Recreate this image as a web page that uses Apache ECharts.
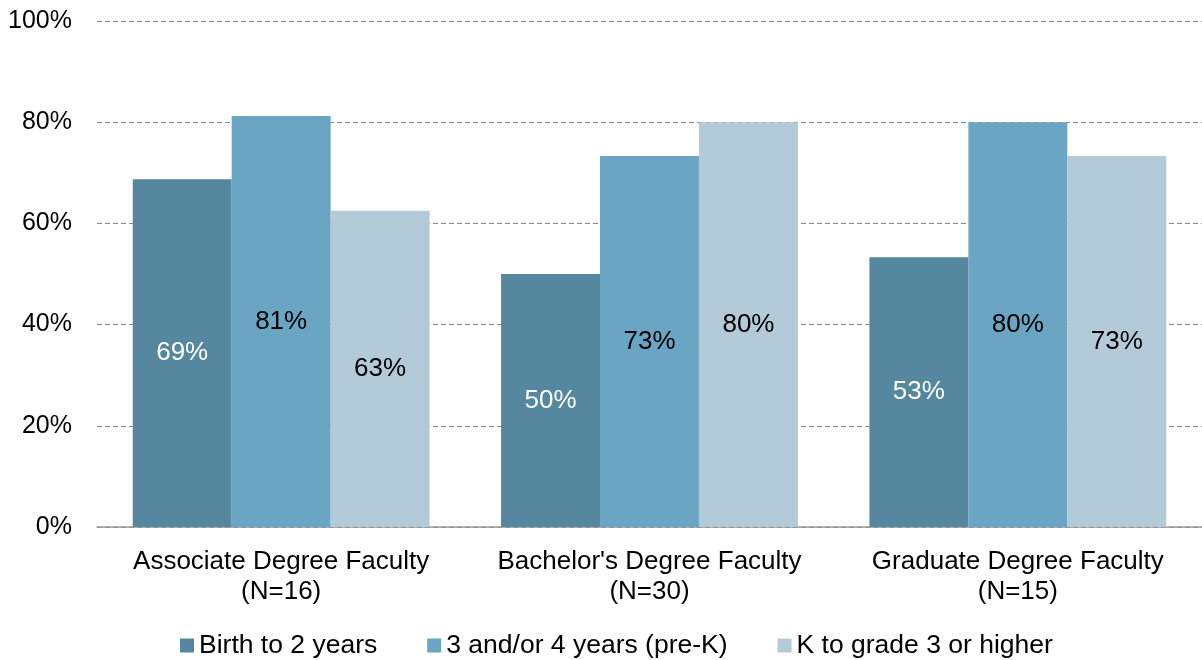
<!DOCTYPE html>
<html><head><meta charset="utf-8">
<script src="https://cdn.jsdelivr.net/npm/echarts@6/dist/echarts.min.js"></script>
<style>html,body{margin:0;padding:0;background:#fff}#c{width:1202px;height:660px}</style>
</head><body><div id="c"></div>
<script>
const categories = ["Associate Degree Faculty\n(N=16)", "Bachelor's Degree Faculty\n(N=30)", "Graduate Degree Faculty\n(N=15)"];
const seriesNames = ["Birth to 2 years", "3 and/or 4 years (pre-K)", "K to grade 3 or higher"];
const birthTo2 = [68.75, 50, 53.33];
const preK = [81.25, 73.33, 80];
const kTo3 = [62.5, 80, 73.33];
const yTicks = [0, 20, 40, 60, 80, 100];

const colors = ['#55879e', '#6aa5c3', '#b3cad8'];
const labelColors = ['#ffffff', '#000000', '#000000'];
const font = 'Liberation Sans, Arial, Helvetica, sans-serif';
const dataSets = [birthTo2, preK, kTo3];

const chart = echarts.init(document.getElementById('c'));
chart.setOption({
  animation: false,
  grid: {left: 97, right: 0, top: 21, bottom: 133, containLabel: false},
  legend: {
    top: 632, left: 180,
    padding: 0,
    itemWidth: 14, itemHeight: 14, itemGap: 50,
    icon: 'rect',
    textStyle: {fontFamily: font, fontSize: 26.5, color: '#000', lineHeight: 26},
    data: seriesNames
  },
  xAxis: {
    type: 'category', data: categories,
    axisLine: {lineStyle: {color: '#999', width: 1.5}},
    axisTick: {show: false},
    axisLabel: {fontFamily: font, fontSize: 26, color: '#000', lineHeight: 30, margin: 20,
      interval: 0, hideOverlap: false}
  },
  yAxis: {
    type: 'value', min: 0, max: 100, interval: 20,
    axisLine: {show: false}, axisTick: {show: false},
    axisLabel: {fontFamily: font, fontSize: 25, color: '#000', margin: 25,
      formatter: v => yTicks.includes(v) ? v + '%' : ''},
    splitLine: {lineStyle: {color: '#888', type: [5, 3], width: 1}}
  },
  series: dataSets.map((d, i) => ({
    name: seriesNames[i], type: 'bar', data: d,
    barGap: '0%', barCategoryGap: '19.4%',
    itemStyle: {color: colors[i]},
    label: {show: true, position: 'inside', fontFamily: font, fontSize: 26,
      color: labelColors[i], formatter: p => Math.round(p.value) + '%'}
  }))
});
</script></body></html>
